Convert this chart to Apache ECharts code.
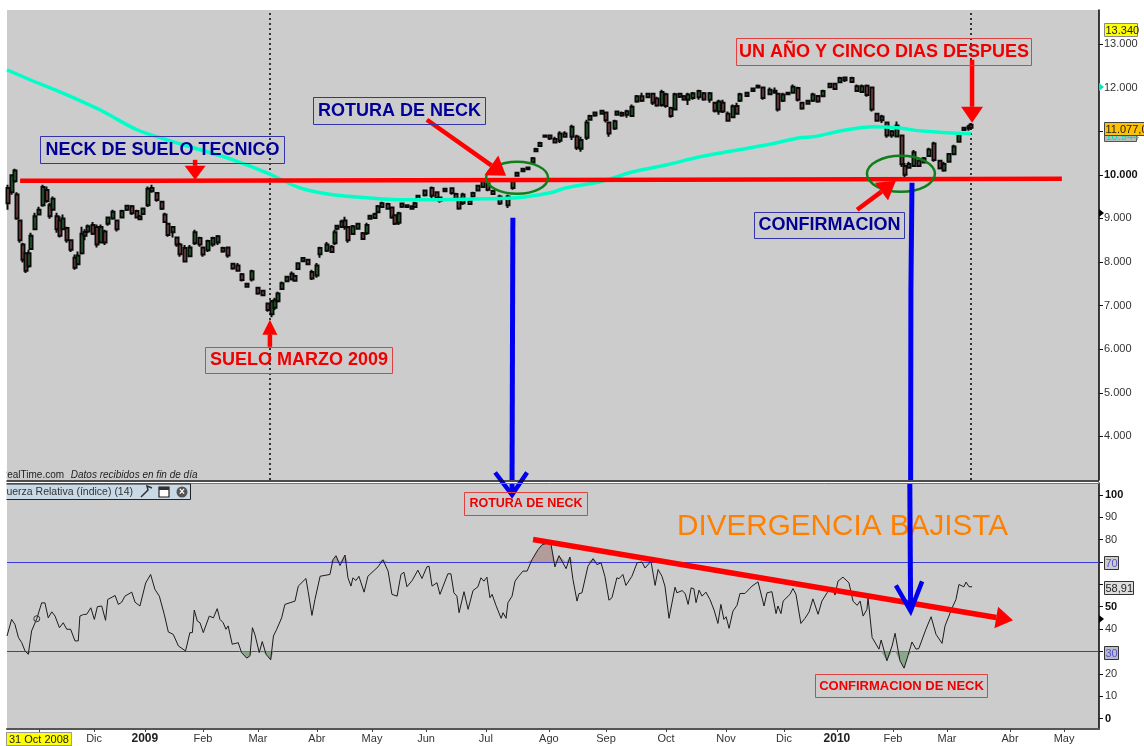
<!DOCTYPE html>
<html><head><meta charset="utf-8">
<style>html,body{margin:0;padding:0;background:#fff}#c{width:1144px;height:746px}</style>
<script src="https://cdn.jsdelivr.net/npm/echarts@6/dist/echarts.min.js"></script>
</head><body><div id="c"></div>
<script>
// x unit: trading sessions since mid-October 2008
const sessionCount = 400;
const monthTickSessions = [11.7,31.9,50.5,71.8,91.9,113.5,133.7,153.5,175.4,198.5,219.4,241.4,263.4,284.6,304,324.5,344.3,367.4,387.2];
const monthTickLabels = ['31 Oct 2008','Dic','2009','Feb','Mar','Abr','May','Jun','Jul','Ago','Sep','Oct','Nov','Dic','2010','Feb','Mar','Abr','May'];
const priceTicks = [4000,5000,6000,7000,8000,9000,10000,11000,12000,13000];
const priceLabels = [4000,5000,6000,7000,8000,9000,10000,12000,13000];
const rsiTicks = [0,10,20,30,40,50,60,70,80,90,100];
const rsiLabels = [0,10,20,40,50,80,90,100];

// [session, open, close, low, high]
const priceBars = [
[0.4,9700,9350,9200,9770],[1.8,9600,9990,9540,10000],[2.9,9850,10100,9820,10140],[3.7,9550,9000,8970,9600],[4.8,8950,8500,8440,8970],[5.9,8400,8050,7990,8440],[7,8200,7800,7750,8210],[8.1,7900,8200,7870,8280],[8.8,8300,8600,8280,8670],[10.3,8750,9050,8740,9130],[11.7,9090,9200,9080,9270],[13.2,9300,9720,9270,9770],[14.7,9650,9400,9360,9730],[15.8,9300,9050,8990,9360],[16.8,9200,9450,9200,9500],[18.3,9050,8750,8670,9130],[19.4,8950,8600,8560,9050],[20.5,8750,9000,8740,9090],[22,8780,8500,8440,8810],[23.4,8500,8280,8230,8510],[24.9,8100,7870,7820,8170],[26,7950,8150,7930,8240],[27.5,8200,8650,8170,8810],[28.6,8600,8690,8500,8750],[29.7,8700,8820,8660,8860],[31.5,8850,8650,8620,8920],[33,8800,8400,8330,8860],[34.4,8450,8800,8440,8860],[35.9,8700,8450,8390,8740],[37,8880,9020,8830,9040],[38.8,9000,9150,8970,9200],[40.3,8950,8750,8700,8970],[42.1,9020,9170,9000,9200],[44,9200,9290,9170,9310],[45.8,9280,9120,9080,9310],[47.6,9170,9020,9000,9200],[48.7,9050,8980,8960,9080],[49.8,9100,9230,9080,9250],[51.6,9300,9680,9260,9730],[53.1,9700,9620,9590,9770],[54.9,9580,9420,9380,9590],[56.8,9380,9220,9190,9390],[57.9,9090,8920,8900,9130],[59,8880,8620,8580,8900],[60.8,8680,8800,8560,8810],[62.3,8560,8400,8350,8580],[63.4,8400,8180,8120,8440],[65.2,8320,8010,8000,8390],[67,8130,8330,8120,8390],[68.9,8430,8680,8390,8740],[70.7,8550,8400,8350,8580],[71.8,8330,8170,8120,8350],[73.6,8270,8480,8230,8510],[75.5,8400,8550,8350,8580],[77.3,8450,8590,8390,8620],[79.1,8320,8240,8210,8350],[81,8330,8150,8100,8350],[82.8,7960,7850,7820,7980],[84.6,7920,7800,7780,7980],[86.1,7720,7590,7550,7750],[87.9,7500,7430,7410,7520],[89.7,7600,7790,7550,7820],[91.9,7410,7280,7250,7430],[93.8,7340,7240,7220,7360],[95.6,7050,6900,6860,7070],[97.1,6800,7100,6730,7130],[98.2,6950,7120,6900,7180],[99.3,7100,7280,7070,7320],[100.7,7380,7510,7360,7550],[102.6,7560,7660,7550,7680],[104.4,7600,7730,7590,7780],[105.5,7680,7570,7550,7710],[106.6,7840,7970,7820,7980],[108.4,8020,8090,8000,8110],[110.3,8050,7950,7930,8060],[111.7,7770,7620,7590,7820],[113.6,7690,7920,7640,7980],[114.7,8180,8320,8100,8350],[117.2,8260,8400,8230,8460],[119,8350,8230,8210,8390],[120.1,8430,8680,8390,8740],[120.9,8760,8830,8720,8850],[122.7,8800,8930,8780,8970],[123.8,8950,8800,8740,9040],[124.9,8800,8500,8440,8810],[126.7,8640,8820,8620,8850],[128.6,8760,8880,8740,8900],[130.4,8660,8530,8510,8690],[131.9,8660,8850,8620,8900],[133,8990,9060,8970,9080],[134.8,9010,9100,8990,9130],[135.9,9140,9280,9120,9310],[137.4,9260,9350,9240,9380],[139.6,9330,9220,9200,9360],[141,9250,9020,8990,9270],[142.1,9070,8880,8850,9090],[143.6,8900,9120,8850,9150],[144.7,9270,9340,9240,9360],[146.5,9300,9260,9240,9320],[148.4,9220,9280,9200,9300],[149.5,9260,9350,9240,9380],[150.5,9440,9520,9430,9540],[153.1,9530,9640,9500,9660],[155.7,9700,9520,9470,9730],[157.5,9600,9470,9430,9620],[158.6,9480,9400,9360,9500],[160.4,9620,9680,9610,9700],[163,9690,9580,9540,9700],[164.5,9560,9450,9430,9590],[165.6,9450,9230,9200,9470],[167,9350,9550,9310,9590],[169.6,9400,9330,9310,9430],[170.7,9500,9580,9470,9610],[172.5,9640,9750,9620,9770],[174.4,9720,9860,9700,9890],[176.2,9800,9660,9620,9820],[178,9630,9560,9540,9660],[180.6,9500,9340,9310,9540],[183.5,9300,9500,9240,9540],[185.3,9700,9850,9660,9890],[186.8,9980,10050,9960,10070],[189,10080,10140,10070,10160],[190.9,10130,10170,10110,10180],[192.7,10280,10380,10270,10410],[193.8,10540,10590,10520,10620],[195.3,10660,10730,10640,10760],[197.1,10870,10900,10850,10920],[198.9,10900,10830,10800,10920],[200.7,10820,10740,10730,10870],[202.6,10780,10950,10730,11000],[204.4,10950,10870,10850,11000],[206.9,10870,11100,10800,11150],[208.8,10880,10620,10570,10920],[210.3,10600,10800,10530,10870],[212.5,10850,11200,10800,11260],[213.6,11260,11350,11240,11380],[215.4,11360,11430,11330,11450],[218,11400,11470,11380,11490],[219.4,11430,11250,11200,11450],[220.5,11200,10950,10870,11200],[222.7,11060,11230,11030,11260],[223.4,11380,11450,11360,11470],[225.3,11420,11360,11330,11450],[227.1,11380,11460,11310,11490],[229,11350,11560,11330,11610],[230.8,11680,11800,11650,11830],[232.6,11800,11700,11670,11880],[234.8,11780,11860,11760,11880],[236.7,11860,11650,11600,11880],[238.1,11750,11590,11560,11790],[240,11600,11900,11560,11950],[241.4,11850,11580,11540,11880],[243.2,11530,11350,11310,11560],[244.7,11500,11850,11490,11880],[246.5,11860,11790,11760,11880],[248,11800,11730,11700,11830],[249.5,11720,11840,11600,11880],[251.3,11760,11870,11720,11900],[253.5,11780,11920,11720,11950],[255.3,11870,11730,11700,11900],[257.5,11720,11870,11650,11900],[259.4,11650,11470,11430,11670],[260.8,11450,11680,11380,11720],[262.3,11650,11450,11420,11720],[264.1,11400,11240,11220,11450],[266,11320,11570,11300,11610],[267.4,11580,11400,11380,11650],[268.5,11700,11850,11670,11880],[271.1,11810,11880,11790,11900],[273.3,11920,11980,11900,12000],[275.1,12000,12040,11980,12070],[276.9,12000,11760,11720,12020],[279.5,11850,11950,11830,12000],[281.3,11930,11880,11860,12000],[282.4,11860,11500,11450,11880],[284.3,11700,11840,11670,11880],[286.1,11850,11880,11830,11900],[287.9,11880,12020,11860,12070],[289.8,11990,11720,11680,12020],[291.2,11650,11520,11490,11670],[293.4,11630,11700,11610,11720],[295.2,11700,11840,11670,11880],[297.1,11810,11680,11650,11830],[298.9,11800,11920,11790,11950],[301.5,12010,12090,11990,12110],[303.3,12090,11970,11950,12110],[305.1,12120,12220,12110,12250],[307,12170,12230,12130,12250],[309.5,12220,12130,12110,12250],[311.4,12030,11920,11900,12070],[313.2,11900,12030,11880,12070],[315,12040,11830,11790,12070],[316.9,12000,11500,11450,12020],[318.7,11400,11240,11220,11420],[320.5,11250,11340,11190,11380],[322.3,11200,10900,10850,11220],[324.2,10900,11000,10850,11030],[326,10880,11130,10870,11220],[327.8,10900,10240,10180,10920],[328.9,10200,10000,9950,10270],[330.4,10160,10250,10160,10300],[332.2,10200,10520,10180,10570],[334,10330,10200,10180,10340],[335.9,10280,10380,10270,10410],[337.7,10430,10580,10410,10620],[339.6,10720,10340,10300,10760],[341.8,10320,10150,10120,10340],[343.2,10100,10250,10070,10300],[345,10300,10480,10280,10500],[346.9,10470,10650,10460,10690],[348.7,10760,10920,10750,10960],[350.5,11030,11080,11010,11100],[352.4,11060,11110,11010,11150],[353.1,11150,11077,11050,11190]
];
// moving average [session, value]
const movingAverage = [[0,12409],[8.4,12180],[19.4,11904],[34,11491],[47.6,11033],[58.6,10803],[70.7,10574],[82.8,10344],[95.2,10046],[107.3,9702],[119.4,9541],[131.9,9472],[144,9427],[156,9427],[174.4,9449],[186.8,9472],[198.9,9587],[205,9702],[217.2,9839],[229.3,10069],[241.8,10229],[253.8,10413],[265.9,10550],[278.4,10688],[290.5,10849],[295.2,10872],[307.7,11033],[317.2,11101],[326,11078],[334.4,11009],[344.3,10963],[353.1,10944]];
// RSI(14) [session, value]
const rsiPoints = [[0,36.9],[1.7,44.3],[2.9,42.1],[4.2,36.2],[5.4,33.9],[6.6,30.2],[7.8,28.7],[9,39.1],[10.9,44.6],[12.7,51.7],[13.9,51.7],[15.1,45],[16.4,47.7],[17.6,45.8],[19.2,40.6],[20.6,42.8],[21.9,39.9],[23.3,39.9],[24.9,34.7],[26.1,34.7],[26.7,45.8],[28,46.5],[29.2,46.6],[30.7,49.5],[32,44.3],[33.1,50],[34.7,50.3],[36.1,43.9],[36.9,53.2],[39.6,55],[40.8,51],[42,52],[43.2,54.7],[45.7,56.5],[46.9,52],[48.7,50.3],[50.8,60.6],[52.6,64.4],[54.2,57.7],[55.8,54.7],[57.6,46.6],[59.1,38.7],[60.9,37.6],[62.8,32.4],[65.4,30.2],[67,38.4],[67.9,38.4],[68.6,48.5],[69.7,43.6],[70.7,42.8],[71.9,38.4],[74.1,45.8],[75.6,45],[77,49.1],[78,44.3],[79.2,42.8],[80.2,39.9],[81,41.4],[82.5,33.2],[84.7,33.9],[85.9,29.5],[87.8,27],[89,28],[89.9,40.6],[90.8,37.6],[92.4,29.5],[93.5,34.4],[94.9,28.7],[96.6,26.2],[97.6,36.9],[98.8,39.9],[100.6,45],[101.8,51],[105.5,52.5],[106.7,59.2],[109.5,62.6],[110.3,56.9],[111.7,46.1],[112.8,53.2],[114.7,63.6],[118.3,64.4],[119.4,71],[120.5,72.8],[122,68.4],[123.8,73.1],[124.9,62.9],[126,59.2],[126.7,62.9],[127.8,61.7],[128.9,63.6],[130.8,56.5],[132.2,63.6],[135.9,67.8],[137.7,71],[139.6,65.9],[141,55.5],[142.9,54.7],[144.3,64.4],[145.4,65.4],[146.5,58.9],[148.4,61.7],[150.5,66.3],[152,62.6],[153.8,67.8],[154.6,68.1],[155.7,59.2],[157.5,60.7],[158.6,55.5],[161.5,64.7],[162.6,64.7],[163.7,56.2],[164.8,54.7],[165.6,47.3],[167.4,56.7],[168.9,48.8],[169.6,48.8],[170.7,57.2],[172.5,58.9],[173.6,62.9],[174.7,61.4],[175.8,63.2],[176.9,54],[177.7,55.5],[179.1,50.6],[181,44.8],[181.7,47.3],[182.8,44.8],[183.5,51.8],[185,54.7],[186.1,61.4],[187.2,63.3],[189,65.9],[190.5,65.9],[192.3,71],[194.5,75.5],[196,77.7],[198.2,78.5],[199.3,77.7],[200.7,67.8],[202.2,72.8],[202.9,72.8],[204.8,67],[206.2,72.2],[207.3,62.2],[208.8,52.5],[209.5,55.8],[210.6,56.2],[212.8,68.1],[214.7,71.5],[216.1,68.8],[217.6,69.6],[219,63.6],[220.5,52.9],[221.6,54],[223.4,62.9],[224.2,62.5],[225.6,64.4],[226.7,59.5],[228.9,63.6],[230.8,69.6],[232.6,70],[233.7,67.3],[235.9,70.3],[237.4,59.5],[238.5,66.6],[239.9,63.6],[241,59.2],[242.5,44.8],[244.7,58.7],[245.4,56.2],[247.3,57.2],[248.4,55.9],[249.5,51],[250.6,58.4],[251.6,58],[252.4,51.8],[253.5,57.4],[254.6,54.7],[256,56.5],[257.5,53.2],[259,48.5],[259.7,48],[260.4,42.5],[261.5,51],[262.6,44.3],[263.4,45.5],[264.5,40.3],[265.9,48],[267.4,50.6],[268.5,55.9],[270.3,55.9],[272.9,59.2],[275.1,61.1],[277.3,50.3],[278.4,56.2],[280.2,56.7],[281.7,46.9],[282.4,50.3],[283.5,46.9],[284.3,52.5],[286.8,55.5],[287.9,58.1],[289,55.5],[290.8,42.5],[292.3,44.8],[293.8,47.6],[295.2,53.5],[297.1,46.6],[298.5,52.5],[300.4,56.2],[302.2,58.7],[303.3,55.2],[304.4,61.4],[306.2,63.2],[308.4,60.7],[309.9,52.5],[311.4,50.6],[312.5,52.5],[313.6,45.8],[315,48.8],[315.4,54],[316.9,36.2],[319.4,31],[320.2,35.1],[322.3,25.8],[324.2,32.4],[325.3,38.1],[327.1,25.8],[328.6,22.5],[330,28],[331.5,34.2],[333,31],[334,31.3],[336.6,39.9],[338.5,45.5],[340.3,37.6],[342.5,33.6],[343.6,41.4],[346.2,49.5],[347.6,53.2],[348.7,59.9],[349.4,60.7],[350.5,58.9],[351.3,61],[352.4,58.9],[353.5,58.91]];

// hand-drawn annotations, in chart units
const neckLine = [[4.8,9862],[52.4,9862],[52.4,9885],[242.9,9885],[242.9,9908],[386.4,9908]];
const verticalMarks = [96.3,353.2];
const rsiLevels = [70,30];
const redPriceArrows = [[68.9,10344,68.9,9885],[153.8,11262,182.8,9977],[353.5,12638,353.5,11193],[96.3,6054,96.3,6674],[311.4,9197,325.6,9862]];
const redPriceHeads = [[14,21],[18,24],[16,22],[15,15],[18,22]];
const redRsiArrow = [[192.7,80,368.5,43.9]];
const neckEllipses = [[175.5,10298,198.2,9564],[315,10436,339.9,9610]];
const bluePriceLines = [[[185.3,9014],[185,3000]],[[331.5,9816],[331.1,7362],[331,3000]]];
const blueRsiArrows = [{line:[[185,105.3],[185,100]],tip:[185,100],arms:[[178.8,110],[190.5,110]]},{line:[[330.7,105.3],[331,48]],tip:[331,48],arms:[[325.6,59.5],[335.2,61.3]]}];
const rsiCursor = [10.9,44.6];

const FONT='"Liberation Sans",Arial,sans-serif';
const chart=echarts.init(document.getElementById('c'),null,{renderer:'canvas'});
const fmtPrice=v=>String(v).replace(/(\d)(\d{3})$/,'$1.$2');

function arrowParts(a,b,w,hl,hw,color){
  const dx=b[0]-a[0],dy=b[1]-a[1],L=Math.hypot(dx,dy)||1,ux=dx/L,uy=dy/L;
  const bx=b[0]-ux*hl,by=b[1]-uy*hl,nx=-uy,ny=ux;
  return [
    {type:'line',shape:{x1:a[0],y1:a[1],x2:bx,y2:by},style:{stroke:color,lineWidth:w}},
    {type:'polygon',shape:{points:[[b[0],b[1]],[bx+nx*hw/2,by+ny*hw/2],[bx-nx*hw/2,by-ny*hw/2]]},style:{fill:color}}
  ];
}
function customSeries(idx,rows,draw,z){
  return {type:'custom',xAxisIndex:idx,yAxisIndex:idx,z,clip:false,silent:true,
    encode:{x:0,y:1},data:rows.map((r,i)=>[i,i]),
    renderItem(p,api){return {type:'group',children:draw(rows[p.dataIndex],p.dataIndex,api)};}};
}

const option={
  animation:false,
  backgroundColor:'#ffffff',
  tooltip:{show:false},
  grid:[
    {left:7,top:10,width:1092,height:470,show:true,backgroundColor:'#cccccc',borderWidth:0},
    {left:7,top:483,width:1092,height:247,show:true,backgroundColor:'#cccccc',borderWidth:0}
  ],
  xAxis:[
    {type:'value',gridIndex:0,min:0,max:sessionCount,show:false,splitLine:{show:false}},
    {type:'value',gridIndex:1,min:0,max:sessionCount,splitLine:{show:false},
     axisLine:{show:true,onZero:false,lineStyle:{color:'#555',width:2}},
     axisTick:{show:true,length:3,inside:false,lineStyle:{color:'#444'},customValues:monthTickSessions},
     axisLabel:{show:true,margin:4,fontFamily:FONT,fontSize:11,color:'#333',customValues:monthTickSessions,
       formatter:v=>{const l=monthTickLabels[monthTickSessions.indexOf(v)]||'';
         return l==='31 Oct 2008'?'{cur|'+l+'}':(/^20/.test(l)?'{b|'+l+'}':l);},
       rich:{cur:{backgroundColor:'#ffff00',borderColor:'#999',borderWidth:1,padding:[1,2,0,2],fontFamily:FONT,fontSize:11,color:'#222'},
             b:{fontWeight:'bold',fontFamily:FONT,fontSize:12,color:'#222'}}}}
  ],
  yAxis:[
    {type:'value',gridIndex:0,position:'right',min:3000,max:13780,splitLine:{show:false},
     axisLine:{show:true,onZero:false,lineStyle:{color:'#000',width:1.5}},
     axisTick:{show:true,length:4,lineStyle:{color:'#111'},customValues:priceTicks},
     axisLabel:{margin:5,fontFamily:FONT,fontSize:11,color:'#333',customValues:priceLabels,
       formatter:v=>v===10000?'{b|'+fmtPrice(v)+'}':fmtPrice(v),rich:{b:{fontWeight:'bold',fontFamily:FONT,fontSize:11,color:'#111'}}}},
    {type:'value',gridIndex:1,position:'right',min:-4.7,max:105.3,splitLine:{show:false},
     axisLine:{show:true,onZero:false,lineStyle:{color:'#000',width:1.5}},
     axisTick:{show:true,length:4,lineStyle:{color:'#111'},customValues:rsiTicks},
     axisLabel:{margin:6,fontFamily:FONT,fontSize:11,color:'#333',customValues:rsiLabels,
       formatter:v=>(v%50===0)?'{b|'+v+'}':String(v),rich:{b:{fontWeight:'bold',fontFamily:FONT,fontSize:11,color:'#111'}}}}
  ],
  series:[
    {type:'candlestick',xAxisIndex:0,yAxisIndex:0,z:3,barWidth:4,silent:true,
     encode:{x:0,y:[1,2,3,4]},data:priceBars,
     itemStyle:{color:'#2f8a3a',color0:'#b05a5a',borderColor:'#0a0a0a',borderColor0:'#0a0a0a',borderWidth:2},
     markLine:{silent:true,symbol:'none',z:2,label:{show:false},animation:false,
       lineStyle:{color:'#000',type:[2,3],width:1.5},data:verticalMarks.map(v=>({xAxis:v}))}},
    {type:'line',xAxisIndex:0,yAxisIndex:0,z:4,data:movingAverage,smooth:0.3,showSymbol:false,silent:true,
     lineStyle:{color:'#00ffc8',width:3.5}},
    {type:'line',xAxisIndex:0,yAxisIndex:0,z:5,data:neckLine,showSymbol:false,silent:true,
     lineStyle:{color:'#ff0000',width:4.5,cap:'butt'}},
    {type:'line',xAxisIndex:1,yAxisIndex:1,z:2,data:rsiPoints.map(p=>[p[0],Math.max(p[1],70)]),showSymbol:false,silent:true,
     lineStyle:{width:0},areaStyle:{origin:70,color:'#b39c9c',opacity:1}},
    {type:'line',xAxisIndex:1,yAxisIndex:1,z:2,data:rsiPoints.map(p=>[p[0],Math.min(p[1],30)]),showSymbol:false,silent:true,
     lineStyle:{width:0},areaStyle:{origin:30,color:'#8aa78c',opacity:1}},
    {type:'line',xAxisIndex:1,yAxisIndex:1,z:3,data:rsiPoints,showSymbol:false,silent:true,
     lineStyle:{color:'#1c1c1c',width:1},
     markLine:{silent:true,symbol:'none',z:2,label:{show:false},animation:false,
       lineStyle:{color:'#3a3ad6',type:'solid',width:1},data:rsiLevels.map(v=>({yAxis:v}))},
     markPoint:{silent:true,symbol:'circle',symbolSize:6,label:{show:false},
       itemStyle:{color:'rgba(0,0,0,0)',borderColor:'#333',borderWidth:1},data:[{coord:rsiCursor}]}},
    customSeries(0,neckEllipses,(r,i,api)=>{
      const a=api.coord([r[0],r[1]]),b=api.coord([r[2],r[3]]);
      return [{type:'ellipse',shape:{cx:(a[0]+b[0])/2,cy:(a[1]+b[1])/2,rx:(b[0]-a[0])/2,ry:(b[1]-a[1])/2},
        style:{fill:null,stroke:'#0f7f1a',lineWidth:2.5}}];
    },6),
    customSeries(0,bluePriceLines,(r,i,api)=>[{type:'polyline',shape:{points:r.map(p=>api.coord(p))},style:{fill:null,stroke:'#0000ee',lineWidth:5}}],7),
    customSeries(1,blueRsiArrows,(r,i,api)=>{
      const tip=api.coord(r.tip);
      return [{type:'polyline',shape:{points:r.line.map(p=>api.coord(p))},style:{fill:null,stroke:'#0000ee',lineWidth:5}},
        {type:'polyline',shape:{points:[api.coord(r.arms[0]),tip,api.coord(r.arms[1])]},style:{fill:null,stroke:'#0000ee',lineWidth:4.5}}];
    },8),
    customSeries(0,redPriceArrows,(r,i,api)=>arrowParts(api.coord([r[0],r[1]]),api.coord([r[2],r[3]]),4.5,redPriceHeads[i][0],redPriceHeads[i][1],'#ff0000'),8),
    customSeries(1,redRsiArrow,(r,i,api)=>arrowParts(api.coord([r[0],r[1]]),api.coord([r[2],r[3]]),5.5,17,22,'#ff0000'),7)
  ],
  graphic:{elements:[]}
};

function box(x,y,w,h,text,font,fill,stroke){
  return [
    {type:'rect',z:9,silent:true,shape:{x,y,width:w,height:h},style:{fill:'rgba(0,0,0,0)',stroke,lineWidth:1}},
    {type:'text',z:9,silent:true,style:{x:x+w/2,y:y+h/2,text,fill,font,textAlign:'center',textVerticalAlign:'middle'}}
  ];
}
function tag(x,y,w,h,text,bg,stroke,fill,z){
  return [
    {type:'rect',z:z||9,silent:true,shape:{x,y,width:w,height:h},style:{fill:bg,stroke,lineWidth:1}},
    {type:'text',z:z||9,silent:true,style:{x:x+1,y:y+h/2+0.5,text,fill,font:'11px '+FONT,textAlign:'left',textVerticalAlign:'middle'}}
  ];
}
const g=[];
const B18='bold 18px '+FONT;
g.push(...box(40.5,136.5,244,27,'NECK DE SUELO TECNICO',B18,'#000099','#3333aa'));
g.push(...box(313.5,97.5,172,27,'ROTURA DE NECK',B18,'#000099','#3333aa'));
g.push(...box(736.5,38.5,295,27,'UN AÑO Y CINCO DIAS DESPUES',B18,'#f00000','#e04040'));
g.push(...box(205.5,347.5,187,26,'SUELO MARZO 2009',B18,'#f00000','#e04040'));
g.push(...box(754.5,212.5,150,26,'CONFIRMACION',B18,'#000099','#3333aa'));
g.push(...box(464.5,492.5,123,23,'ROTURA DE NECK','bold 12.5px '+FONT,'#f00000','#e04040'));
g.push(...box(815.5,674.5,172,23,'CONFIRMACION DE NECK','bold 13px '+FONT,'#f00000','#e04040'));
g.push({type:'text',z:1,silent:true,style:{x:677,y:527,text:'DIVERGENCIA BAJISTA',fill:'#ff8000',font:'29.7px '+FONT,textAlign:'left',textVerticalAlign:'middle'}});
// data-source note and indicator toolbar
g.push({type:'text',z:1,silent:true,style:{x:0,y:475,rich:{a:{font:'10px '+FONT,fill:'#222'},i:{font:'italic 10px '+FONT,fill:'#222'}},text:'{a|RealTime.com}  {i|Datos recibidos en fin de día}',textVerticalAlign:'middle'}});
g.push({type:'line',z:9,silent:true,shape:{x1:0,y1:481,x2:1099,y2:481},style:{stroke:'#111',lineWidth:1.5}});
g.push({type:'line',z:9,silent:true,shape:{x1:0,y1:483.5,x2:1099,y2:483.5},style:{stroke:'#777',lineWidth:1}});
g.push({type:'rect',z:9,silent:true,shape:{x:3,y:484,width:187.5,height:15.5},style:{fill:'#c9d9e5',stroke:'#222',lineWidth:1}});
g.push({type:'text',z:9,silent:true,style:{x:0,y:492,text:'Fuerza Relativa (índice) (14)',fill:'#333',font:'10.5px '+FONT,textAlign:'left',textVerticalAlign:'middle'}});
g.push({type:'rect',z:11,silent:true,shape:{x:0,y:466,width:6.5,height:35},style:{fill:'#fff'}});
g.push({type:'polyline',z:10,silent:true,shape:{points:[[141,497],[148,490],[147,486],[152,488]]},style:{fill:null,stroke:'#333',lineWidth:1.5}});
g.push({type:'rect',z:10,silent:true,shape:{x:159,y:487,width:10,height:10},style:{fill:'#fff',stroke:'#222',lineWidth:1.2}});
g.push({type:'rect',z:10,silent:true,shape:{x:159,y:487,width:10,height:3},style:{fill:'#333'}});
g.push({type:'circle',z:10,silent:true,shape:{cx:182,cy:492,r:5.5},style:{fill:'#555'}});
g.push({type:'text',z:10,silent:true,style:{x:182,y:492,text:'×',fill:'#fff',font:'bold 10px '+FONT,textAlign:'center',textVerticalAlign:'middle'}});
// value tags on the axes
g.push(...tag(1104.5,130.5,32,11,'10.944','#bbbbbb','#555','#00e0b0'));
g.push(...tag(1104.5,122.5,40,13,'11.077,0','#ffc000','#444','#222',10));
g.push(...tag(1104.5,23.5,33,13,'13.340','#ffff00','#888','#222'));
g.push(...tag(1104.5,556.5,14,13,'70','#cccccc','#333','#5555cc'));
g.push(...tag(1104.5,646.5,14,13,'30','#bbbbcc','#333','#5555cc'));
g.push(...tag(1104.5,581.5,29,13,'58,91','#dddddd','#333','#222'));
g.push({type:'polygon',z:9,silent:true,shape:{points:[[1099,83],[1104,87],[1099,91]]},style:{fill:'#00e6c0'}});
g.push({type:'polygon',z:9,silent:true,shape:{points:[[1099,209],[1104,213],[1099,217]]},style:{fill:'#000'}});
g.push({type:'polygon',z:9,silent:true,shape:{points:[[1099,615],[1104,619],[1099,623]]},style:{fill:'#000'}});
option.graphic.elements=g;
chart.setOption(option);
</script></body></html>
